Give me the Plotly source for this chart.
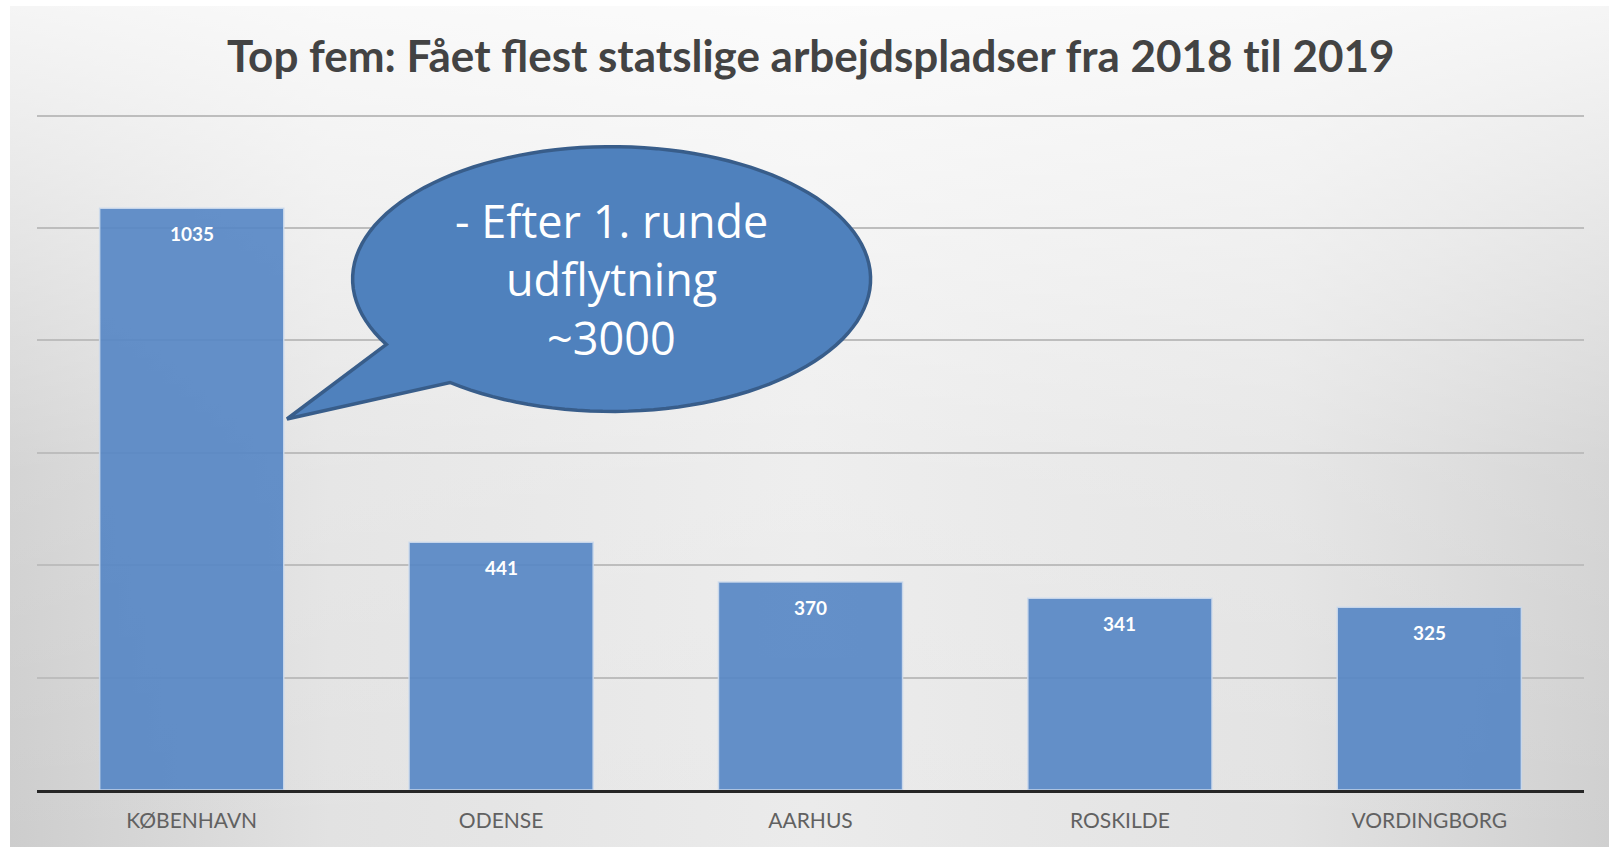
import math
import plotly.graph_objects as go

# ---- data ----
cities = ["KØBENHAVN", "ODENSE", "AARHUS", "ROSKILDE", "VORDINGBORG"]
jobs = [1035, 441, 370, 341, 325]
title_text = "Top fem: Fået flest statslige arbejdspladser fra 2018 t\u200cil 2019"
bubble_lines = ["- Efter 1. runde", "udflytning", "~3000"]

W, H = 1609, 847


def px(x):
    return x / W


def py(y):
    return 1 - y / H


fig = go.Figure()

# background panel: horizontal gradient + vertical light overlay (own full-frame axes)
fig.add_trace(go.Scatter(
    x=[0, 1, 1, 0, 0], y=[0, 0, 1, 1, 0], mode="lines", fill="toself",
    line=dict(width=0), hoverinfo="skip", showlegend=False,
    fillgradient=dict(type="horizontal", start=0, stop=1,
                      colorscale=[[0, "#cdcdcd"], [0.2, "#e2e2e2"], [0.5, "#ebebeb"],
                                  [0.8, "#e2e2e2"], [1, "#cfcfcf"]]),
    xaxis="x", yaxis="y"))
fig.add_trace(go.Scatter(
    x=[0, 1, 1, 0, 0], y=[0, 0, 1, 1, 0], mode="lines", fill="toself",
    line=dict(width=0), hoverinfo="skip", showlegend=False,
    fillgradient=dict(type="vertical", start=0, stop=1,
                      colorscale=[[0, "rgba(255,255,255,0)"], [0.45, "rgba(255,255,255,0.15)"],
                                  [1, "rgba(255,255,255,0.8)"]]),
    xaxis="x", yaxis="y"))

# bars
fig.add_trace(go.Bar(
    x=cities, y=jobs, xaxis="x2", yaxis="y2",
    marker=dict(color="rgba(84,133,196,0.9)",
                line=dict(color="rgba(205,218,236,0.9)", width=1.5)),
    hoverinfo="skip", showlegend=False))

y_top = 1205
base_px = 790
scale = 112.4 / 200
top_px = base_px - y_top * scale

fig.update_layout(
    width=W, height=H,
    margin=dict(l=0, r=0, t=0, b=0),
    paper_bgcolor="white",
    plot_bgcolor="rgba(0,0,0,0)",
    bargap=0.405,
    xaxis=dict(domain=[px(10), 1], range=[0, 1], visible=False, fixedrange=True),
    yaxis=dict(domain=[0, py(6)], range=[0, 1], visible=False, fixedrange=True),
    xaxis2=dict(domain=[px(37), px(1584)], anchor="y2", showgrid=False,
                showline=True, linecolor="#262626", linewidth=3,
                ticks="outside", ticklen=10, tickcolor="rgba(0,0,0,0)",
                tickfont=dict(family="Lato", size=21, color="#616161")),
    yaxis2=dict(domain=[py(base_px), py(top_px)], anchor="x2", range=[0, y_top],
                dtick=200, showgrid=True, gridcolor="#bdbdbd", gridwidth=1.6,
                zeroline=False, showticklabels=False, ticks=""),
)

annotations = []
# title
annotations.append(dict(x=px(811), y=py(55), xref="paper", yref="paper",
                        text=title_text, showarrow=False, xanchor="center", yanchor="middle",
                        font=dict(family="Lato", size=44, color="#434343", weight="bold")))
# data labels
for c, v in zip(cities, jobs):
    annotations.append(dict(x=c, y=v, xref="x2", yref="y2", text=str(v), showarrow=False,
                            yanchor="middle", yshift=-25,
                            font=dict(family="Lato", size=19, color="white", weight="bold")))
# bubble text
for i, line in enumerate(bubble_lines):
    annotations.append(dict(x=px(611), y=py(221 + 58 * i), xref="paper", yref="paper",
                            text=line, showarrow=False, xanchor="center", yanchor="middle",
                            font=dict(family="Open Sans", size=45, color="white")))
fig.update_layout(annotations=annotations)

# speech bubble shape
cx, cy, a, b = 611.6, 279.0, 259.0, 132.4
t0, t1 = 150.4, 488.6
pts = []
n = 120
for k in range(n + 1):
    t = math.radians(t0 + (t1 - t0) * k / n)
    pts.append((cx + a * math.cos(t), cy + b * math.sin(t)))
pts.append((287, 419))
path = "M " + " L ".join(f"{px(x):.5f},{py(y):.5f}" for x, y in pts) + " Z"
fig.add_shape(type="path", path=path, xref="paper", yref="paper",
              fillcolor="#4f81bd", line=dict(color="#385d8a", width=3.5), layer="above")

fig.write_html("out.html", config={"displayModeBar": False},
               post_script="document.body.style.margin='0px';")
